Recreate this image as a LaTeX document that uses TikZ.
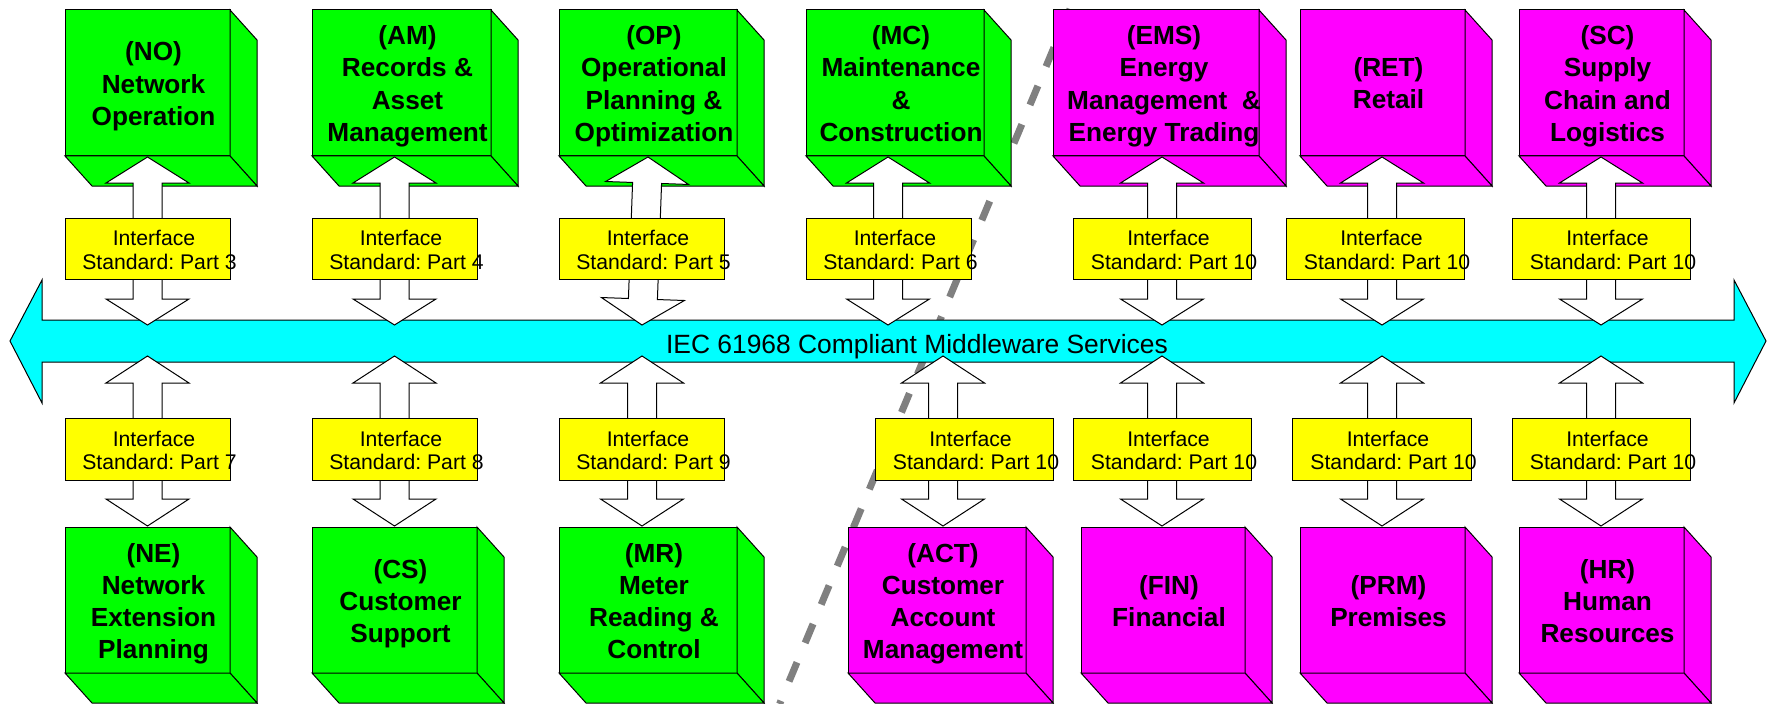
\documentclass[tikz,border=0pt]{standalone}
\usepackage{fontspec}
\setmainfont{Liberation Sans}
\usetikzlibrary{calc}
\frenchspacing
\definecolor{cgreen}{RGB}{0,255,0}
\definecolor{cmag}{RGB}{255,0,255}
\definecolor{cyel}{RGB}{255,255,0}
\definecolor{ccyan}{RGB}{0,255,255}
\definecolor{dashgray}{RGB}{128,128,128}
\newcommand\cs{\rule[-6bp]{0pt}{26bp}}
\newcommand\ys{\rule[-5bp]{0pt}{21bp}}
% cube: name, x1, y1, x2, y2, colour, text x-offset, text
\newcommand\mkcube[8]{%
  \node[face, fill=#6, minimum width={(#4-#2)*1bp}, minimum height={(#5-#3)*1bp}] (#1) at ({(#2+#4)/2},{(#3+#5)/2}) {};
  \draw[side, fill=#6] (#1.north east) -- ($(#1.north east)+(27,30)$) -- ($(#1.south east)+(27,30)$) -- (#1.south east) -- cycle;
  \draw[side, fill=#6] (#1.south west) -- (#1.south east) -- ($(#1.south east)+(27,30)$) -- ($(#1.south west)+(27,30)$) -- cycle;
  \node[cubetext] (#1t) at ($(#1.center)+(#7,3)$) {#8};
}
% interface box: name, x1, y1, x2, y2, part
\newcommand\mkibox[6]{%
  \node[ybox, minimum width={(#4-#2)*1bp}, minimum height={(#5-#3)*1bp}] (#1) at ({(#2+#4)/2},{(#3+#5)/2}) {};
  \node[ytext] (#1t) at ($(#1.center)+(12,3.5)$) {\ys Interface\kern11bp\\\ys Standard: Part #6};
}
% double block arrow between two named coordinates
\newcommand\dblarrow[3]{%
  \coordinate (h1) at ($(#1)!#3!(#2)$);
  \coordinate (h2) at ($(#2)!#3!(#1)$);
  \draw[arr] (#1) -- ($(h1)!41.5bp!90:(#2)$) -- ($(h1)!14.5bp!90:(#2)$)
    -- ($(h2)!14.5bp!-90:(#1)$) -- ($(h2)!41.5bp!-90:(#1)$) -- (#2)
    -- ($(h2)!41.5bp!90:(#1)$) -- ($(h2)!14.5bp!90:(#1)$)
    -- ($(h1)!14.5bp!-90:(#2)$) -- ($(h1)!41.5bp!-90:(#2)$) -- cycle;
}
\begin{document}
\begin{tikzpicture}[x=1bp,y=-1bp,
  face/.style={draw=black, line width=1bp, rectangle, inner sep=0pt, outer sep=0pt},
  side/.style={draw=black, line width=1bp, line join=miter},
  cubetext/.style={font=\bfseries\fontsize{26.2bp}{32bp}\selectfont, align=center, inner sep=0pt},
  ybox/.style={draw=black, line width=1bp, fill=cyel, rectangle, inner sep=0pt, outer sep=0pt},
  ytext/.style={font=\fontsize{21.2bp}{23.3bp}\selectfont, align=center, inner sep=0pt},
  arr/.style={draw=black, fill=white, line width=1bp, line join=miter},
  bandst/.style={draw=black, fill=ccyan, line width=1bp, line join=miter},
  divider/.style={draw=dashgray, line width=7bp, dash pattern=on 20.6bp off 21.05bp, dash phase=31.84bp}
]
\useasboundingbox (0,0) rectangle (1769,704);
\fill[white] (0,0) rectangle (1769,704);

% dashed divider
\coordinate (dA) at (1073.8,0);
\coordinate (dB) at (779.6,704);
\draw[divider] (dA) -- (dB);

% middleware band
\draw[bandst] (10,341) -- (42,280) -- (42,320) -- (1734,320) -- (1734,280) -- (1766,341)
  -- (1734,403) -- (1734,362) -- (42,362) -- (42,403) -- cycle;

% top cubes
\mkcube{NO}{65}{10}{230}{156}{cgreen}{6}{\cs(NO)\\\cs Network\\\cs Operation}
\mkcube{AM}{312}{10}{491}{156}{cgreen}{6}{\cs(AM)\\\cs Records \&\\\cs Asset\\\cs Management}
\mkcube{OP}{559}{10}{737}{156}{cgreen}{6}{\cs(OP)\\\cs Operational\\\cs Planning \&\\\cs Optimization}
\mkcube{MC}{806}{10}{984}{156}{cgreen}{6}{\cs(MC)\\\cs Maintenance\\\cs \&\\\cs Construction}
\mkcube{EMS}{1053}{10}{1259}{156}{cmag}{8}{\cs(EMS)\\\cs Energy\\\cs Management\ \ \&\\\cs Energy Trading}
\mkcube{RET}{1300}{10}{1465}{156}{cmag}{6}{\cs(RET)\\\cs Retail}
\mkcube{SC}{1519}{10}{1684}{156}{cmag}{6}{\cs(SC)\\\cs Supply\\\cs Chain and\\\cs Logistics}

% bottom cubes
\mkcube{NE}{65}{527}{230}{673}{cgreen}{6}{\cs(NE)\\\cs Network\\\cs Extension\\\cs Planning}
\mkcube{CS}{312}{527}{477}{673}{cgreen}{6}{\cs(CS)\\\cs Customer\\\cs Support}
\mkcube{MR}{559}{527}{737}{673}{cgreen}{6}{\cs(MR)\\\cs Meter\\\cs Reading \&\\\cs Control}
\mkcube{ACT}{848}{527}{1026}{673}{cmag}{6}{\cs(ACT)\\\cs Customer\\\cs Account\\\cs Management}
\mkcube{FIN}{1081}{527}{1245}{673}{cmag}{6}{\cs(FIN)\\\cs Financial}
\mkcube{PRM}{1300}{527}{1465}{673}{cmag}{6}{\cs(PRM)\\\cs Premises}
\mkcube{HR}{1519}{527}{1684}{673}{cmag}{6}{\cs(HR)\\\cs Human\\\cs Resources}

% arrow end points
\coordinate (NOa) at (147.5,157);  \coordinate (NOb) at (147.5,325);
\coordinate (AMa) at (394.5,157);  \coordinate (AMb) at (394.5,325);
\coordinate (OPa) at (648,157);    \coordinate (OPb) at (642,325);
\coordinate (MCa) at (888,157);    \coordinate (MCb) at (888,325);
\coordinate (EMSa) at (1162,157);  \coordinate (EMSb) at (1162,325);
\coordinate (RETa) at (1382,157);  \coordinate (RETb) at (1382,325);
\coordinate (SCa) at (1601,157);   \coordinate (SCb) at (1601,325);
\coordinate (NEa) at (147.5,356);  \coordinate (NEb) at (147.5,526);
\coordinate (CSa) at (394.5,356);  \coordinate (CSb) at (394.5,526);
\coordinate (MRa) at (642,356);    \coordinate (MRb) at (642,526);
\coordinate (ACTa) at (943,356);   \coordinate (ACTb) at (943,526);
\coordinate (FINa) at (1162,356);  \coordinate (FINb) at (1162,526);
\coordinate (PRMa) at (1382,356);  \coordinate (PRMb) at (1382,526);
\coordinate (HRa) at (1601,356);   \coordinate (HRb) at (1601,526);

\dblarrow{NOa}{NOb}{26bp}
\dblarrow{AMa}{AMb}{26bp}
\dblarrow{OPa}{OPb}{26bp}
\dblarrow{MCa}{MCb}{26bp}
\dblarrow{EMSa}{EMSb}{26bp}
\dblarrow{RETa}{RETb}{26bp}
\dblarrow{SCa}{SCb}{26bp}
\dblarrow{NEa}{NEb}{27bp}
\dblarrow{CSa}{CSb}{27bp}
\dblarrow{MRa}{MRb}{27bp}
\dblarrow{ACTa}{ACTb}{27bp}
\dblarrow{FINa}{FINb}{27bp}
\dblarrow{PRMa}{PRMb}{27bp}
\dblarrow{HRa}{HRb}{27bp}

% interface boxes
\mkibox{iNO}{65}{218}{230}{279}{3}
\mkibox{iAM}{312}{218}{477}{279}{4}
\mkibox{iOP}{559}{218}{724}{279}{5}
\mkibox{iMC}{806}{218}{971}{279}{6}
\mkibox{iEMS}{1073}{218}{1251}{279}{10}
\mkibox{iRET}{1286}{218}{1464}{279}{10}
\mkibox{iSC}{1512}{218}{1690}{279}{10}
\mkibox{iNE}{65}{418}{230}{480}{7}
\mkibox{iCS}{312}{418}{477}{480}{8}
\mkibox{iMR}{559}{418}{724}{480}{9}
\mkibox{iACT}{875}{418}{1053}{480}{10}
\mkibox{iFIN}{1073}{418}{1251}{480}{10}
\mkibox{iPRM}{1292}{418}{1471}{480}{10}
\mkibox{iHR}{1512}{418}{1690}{480}{10}

% band label
\node[font=\fontsize{26.4bp}{30bp}\selectfont, anchor=base, inner sep=0pt] (bandtxt) at (917,353) {IEC 61968 Compliant Middleware Services};
\end{tikzpicture}
\end{document}
